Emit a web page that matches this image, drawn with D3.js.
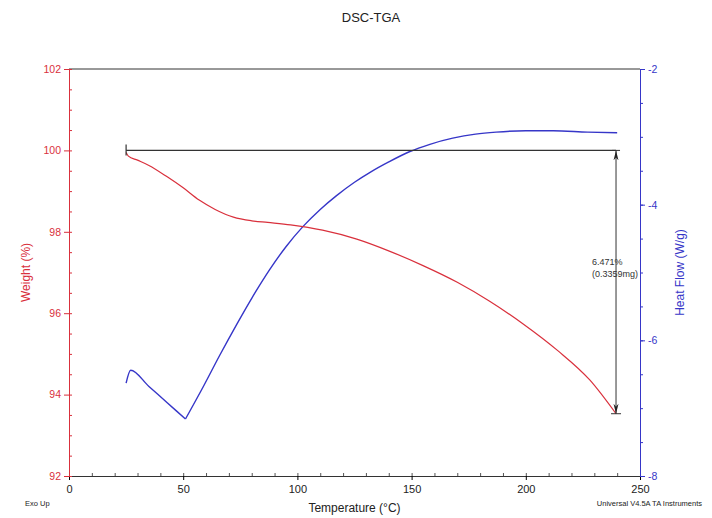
<!DOCTYPE html>
<html>
<head>
<meta charset="utf-8">
<script src="https://cdn.jsdelivr.net/npm/d3@7"></script>
<style>
  body { margin: 0; background: #fff; }
  text { font-family: "Liberation Sans", Arial, sans-serif; }
</style>
</head>
<body>
<script>
// TGA weight curve (red, left axis)
var tgaTemp   = [25, 26, 30, 35, 43, 50, 57, 64, 72, 80, 87, 97, 111, 126, 140.5, 155, 170, 184, 199, 214, 228, 239.5];
var tgaWeight = [99.95, 99.86, 99.76, 99.63, 99.35, 99.08, 98.78, 98.55, 98.36, 98.27, 98.23, 98.17, 98.04, 97.82, 97.52, 97.17, 96.76, 96.30, 95.73, 95.08, 94.36, 93.53];

// DSC heat flow curve (blue, right axis)
var hfTemp = [25, 27, 35, 43, 51, 59, 66, 73.5, 80, 88, 95, 102.5, 110, 117, 125, 132, 140, 149, 158, 168, 178, 187, 200, 212, 227, 240];
var hfVal  = [-6.63, -6.44, -6.68, -6.92, -7.16, -6.67, -6.22, -5.76, -5.38, -4.95, -4.62, -4.32, -4.07, -3.87, -3.67, -3.52, -3.37, -3.22, -3.11, -3.02, -2.96, -2.93, -2.91, -2.91, -2.93, -2.94];

// tick labels
var xTicks = [0, 50, 100, 150, 200, 250];
var wTicks = [92, 94, 96, 98, 100, 102];
var hfTicks = [-8, -6, -4, -2];

// step annotation
var stepStart = 25, stepEnd = 239.5, stepTop = 100, stepBottom = 93.53;
var stepLabel = ["6.471%", "(0.3359mg)"];

function drawChart() {
  var red = "#d9303c", blue = "#3636c8";

  var width = 712, height = 518;
  var mLeft = 69, mRight = 640, mTop = 69, mBottom = 476;

  var svg = d3.select("body").append("svg")
    .attr("width", width)
    .attr("height", height);

  var x = d3.scaleLinear().domain([0, 250]).range([mLeft, mRight]);
  var yW = d3.scaleLinear().domain([92, 102]).range([mBottom, mTop]);
  var yH = d3.scaleLinear().domain([-8, -2]).range([mBottom, mTop]);

  // top frame line
  svg.append("line").attr("x1", mLeft).attr("x2", mRight).attr("y1", mTop).attr("y2", mTop)
    .attr("stroke", "#333").attr("stroke-width", 1);

  // bottom axis
  var xAxis = svg.append("g")
    .attr("transform", "translate(0," + mBottom + ")")
    .call(d3.axisBottom(x).tickValues(xTicks).tickSize(4).tickSizeOuter(0));
  xAxis.select(".domain").attr("stroke", "#333");
  xAxis.selectAll("text").attr("font-size", 11).attr("fill", "#222").attr("dy", "0.9em");
  svg.append("g")
    .attr("transform", "translate(0," + mBottom + ")")
    .call(d3.axisBottom(x).tickValues(d3.range(0, 251, 10)).tickSize(-3).tickFormat(""))
    .call(g => g.select(".domain").remove())
    .selectAll("line").attr("stroke", "#555");

  // left axis (weight)
  var wAxis = svg.append("g")
    .attr("transform", "translate(" + mLeft + ",0)")
    .call(d3.axisLeft(yW).tickValues(wTicks).tickSize(5).tickSizeOuter(0));
  wAxis.select(".domain").attr("stroke", red);
  wAxis.selectAll("line").attr("stroke", red);
  wAxis.selectAll("text").attr("font-size", 10.5).attr("fill", red);
  svg.append("g")
    .attr("transform", "translate(" + mLeft + ",0)")
    .call(d3.axisLeft(yW).tickValues(d3.range(92, 102.01, 0.5)).tickSize(-3).tickFormat(""))
    .call(g => g.select(".domain").remove())
    .selectAll("line").attr("stroke", red);

  // right axis (heat flow)
  var hAxis = svg.append("g")
    .attr("transform", "translate(" + mRight + ",0)")
    .call(d3.axisRight(yH).tickValues(hfTicks).tickSize(5).tickSizeOuter(0).tickFormat(d => d));
  hAxis.select(".domain").attr("stroke", blue);
  hAxis.selectAll("line").attr("stroke", blue);
  hAxis.selectAll("text").attr("font-size", 10.5).attr("fill", blue);
  svg.append("g")
    .attr("transform", "translate(" + mRight + ",0)")
    .call(d3.axisRight(yH).tickValues(d3.range(-8, -1.99, 0.5)).tickSize(3).tickFormat(""))
    .call(g => g.select(".domain").remove())
    .selectAll("line").attr("stroke", blue);

  // curves
  var tgaData = tgaTemp.map((t, i) => [t, tgaWeight[i]]);
  var hfData = hfTemp.map((t, i) => [t, hfVal[i]]);

  // heat flow has a sharp minimum, so draw it in two pieces split there
  var iMin = d3.minIndex(hfVal);
  var hfLine = d3.line().x(d => x(d[0])).y(d => yH(d[1])).curve(d3.curveMonotoneX);
  [hfData.slice(0, iMin + 1), hfData.slice(iMin)].forEach(function(part) {
    svg.append("path")
      .datum(part)
      .attr("fill", "none")
      .attr("stroke", blue)
      .attr("stroke-width", 1.4)
      .attr("stroke-linejoin", "round")
      .attr("d", hfLine);
  });

  svg.append("path")
    .datum(tgaData)
    .attr("fill", "none")
    .attr("stroke", red)
    .attr("stroke-width", 1.2)
    .attr("d", d3.line().x(d => x(d[0])).y(d => yW(d[1])).curve(d3.curveMonotoneX));

  // step annotation
  var defs = svg.append("defs");
  defs.append("marker")
    .attr("id", "arr")
    .attr("viewBox", "0 0 10 10")
    .attr("refX", 10).attr("refY", 5)
    .attr("markerWidth", 10).attr("markerHeight", 10)
    .attr("markerUnits", "userSpaceOnUse")
    .attr("orient", "auto-start-reverse")
    .append("path")
    .attr("d", "M0,2.5 L10,5 L0,7.5 L3,5 Z")
    .attr("fill", "#222");

  svg.append("line")
    .attr("x1", x(stepStart)).attr("x2", x(stepEnd))
    .attr("y1", yW(stepTop)).attr("y2", yW(stepTop))
    .attr("stroke", "#333").attr("stroke-width", 1.2);
  svg.append("line")
    .attr("x1", x(stepStart)).attr("x2", x(stepStart))
    .attr("y1", yW(stepTop) - 6).attr("y2", yW(stepTop) + 5)
    .attr("stroke", "#333").attr("stroke-width", 1.2);
  svg.append("line")
    .attr("x1", x(stepEnd)).attr("x2", x(stepEnd))
    .attr("y1", yW(stepTop)).attr("y2", yW(stepBottom))
    .attr("stroke", "#333").attr("stroke-width", 1)
    .attr("marker-start", "url(#arr)")
    .attr("marker-end", "url(#arr)");
  svg.append("line")
    .attr("x1", x(stepEnd) - 5).attr("x2", x(stepEnd) + 5)
    .attr("y1", yW(stepBottom)).attr("y2", yW(stepBottom))
    .attr("stroke", "#333").attr("stroke-width", 1);
  svg.append("line")
    .attr("x1", x(stepEnd) - 4).attr("x2", x(stepEnd) + 4)
    .attr("y1", yW(stepTop)).attr("y2", yW(stepTop))
    .attr("stroke", "#333").attr("stroke-width", 1);

  svg.selectAll(".steplbl")
    .data(stepLabel)
    .enter()
    .append("text")
    .attr("class", "steplbl")
    .attr("x", x(stepEnd) - 24)
    .attr("y", (d, i) => yW((stepTop + stepBottom) / 2) - 17 + i * 12)
    .attr("font-size", 9)
    .attr("fill", "#333")
    .text(d => d);

  // titles
  svg.append("text")
    .attr("x", 371).attr("y", 22)
    .attr("text-anchor", "middle")
    .attr("font-size", 13)
    .attr("fill", "#222")
    .text("DSC-TGA");

  svg.append("text")
    .attr("x", (mLeft + mRight) / 2).attr("y", 512)
    .attr("text-anchor", "middle")
    .attr("font-size", 12)
    .attr("fill", "#222")
    .text("Temperature (°C)");

  svg.append("text")
    .attr("transform", "translate(30," + (mTop + mBottom) / 2 + ") rotate(-90)")
    .attr("text-anchor", "middle")
    .attr("font-size", 12)
    .attr("fill", red)
    .text("Weight (%)");

  svg.append("text")
    .attr("transform", "translate(684," + (mTop + mBottom) / 2 + ") rotate(-90)")
    .attr("text-anchor", "middle")
    .attr("font-size", 12)
    .attr("fill", blue)
    .text("Heat Flow (W/g)");

  svg.append("text")
    .attr("x", 25).attr("y", 506)
    .attr("font-size", 7.5)
    .attr("fill", "#222")
    .text("Exo Up");

  svg.append("text")
    .attr("x", 702).attr("y", 506)
    .attr("text-anchor", "end")
    .attr("font-size", 7.5)
    .attr("fill", "#222")
    .text("Universal V4.5A TA Instruments");
}

drawChart();
</script>
</body>
</html>
